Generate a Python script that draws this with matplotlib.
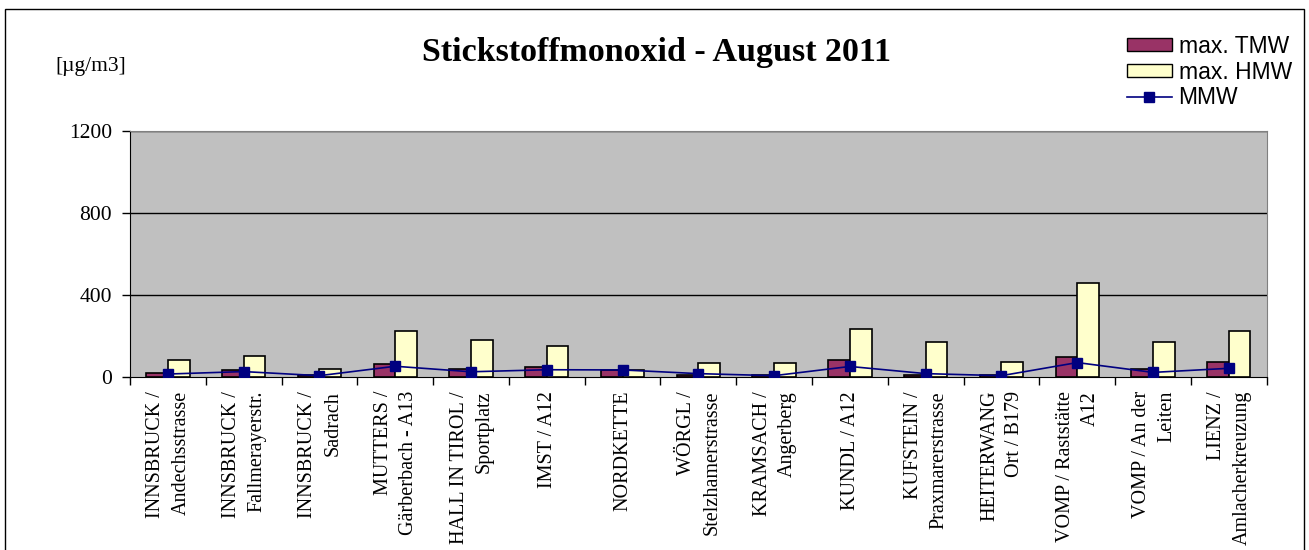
import matplotlib.pyplot as plt
import matplotlib.patches as mpatches
from matplotlib.lines import Line2D
import numpy as np

# Messstellen und Werte
stations = ["INNSBRUCK /\nAndechsstrasse", "INNSBRUCK /\nFallmerayerstr.", "INNSBRUCK /\nSadrach",
            "MUTTERS /\nGärberbach - A13", "HALL IN TIROL /\nSportplatz", "IMST / A12", "NORDKETTE",
            "WÖRGL /\nStelzhamerstrasse", "KRAMSACH /\nAngerberg", "KUNDL / A12",
            "KUFSTEIN /\nPraxmarerstrasse", "HEITERWANG\nOrt / B179", "VOMP / Raststätte\nA12",
            "VOMP / An der\nLeiten", "LIENZ /\nAmlacherkreuzung"]
max_tmw = [20, 31, 8, 64, 38, 46, 31, 8, 7, 82, 10, 6, 98, 38, 74]
max_hmw = [82, 100, 38, 222, 178, 152, 31, 65, 65, 232, 170, 74, 460, 170, 222]
mmw = [13, 25, 5, 51, 24, 34, 33, 15, 5, 50, 15, 5, 69, 21, 41]
yticks = [0, 400, 800, 1200]

serif = 'Liberation Serif'
sans = 'Liberation Sans'

fig = plt.figure(figsize=(13.09, 5.5), dpi=100)
ax = fig.add_axes([130 / 1309, 1 - 376.7 / 550, (1266.7 - 130) / 1309, (376.7 - 131) / 550])
ax.set_facecolor('#C0C0C0')

x = np.arange(len(stations))
w = 1 / 3.5
ax.bar(x - w / 2, max_tmw, w, color='#993366', edgecolor='black', linewidth=1.2, zorder=3)
ax.bar(x + w / 2, max_hmw, w, color='#FFFFCC', edgecolor='black', linewidth=1.2, zorder=3)
ax.plot(x, mmw, color='#000080', marker='s', markersize=7.5, linewidth=1.2, zorder=4)

ax.set_xlim(-0.5, len(stations) - 0.5)
ax.set_ylim(0, 1200)
ax.set_yticks(yticks)
ax.set_yticklabels([str(v) for v in yticks], fontfamily=serif, fontsize=15.5)
for v in yticks[1:]:
    ax.axhline(v, color='black', linewidth=1, zorder=1)

ax.set_xticks(np.arange(-0.5, len(stations), 1))
ax.set_xticklabels([])
ax.tick_params(axis='both', direction='out', length=6, width=1)
ax.tick_params(axis='y', pad=7)

for i, s in enumerate(stations):
    ax.text(i + 0.01, -0.058, s, transform=ax.get_xaxis_transform(), rotation=90,
            ha='center', va='top', multialignment='right', fontfamily=serif,
            fontsize=14.5, linespacing=1.45)

ax.spines['left'].set_color('black')
ax.spines['bottom'].set_color('black')
ax.spines['top'].set_color('#808080')
ax.spines['right'].set_color('#808080')

fig.text(656 / 1309, 1 - 53 / 550, 'Stickstoffmonoxid - August 2011', ha='center', va='center',
         fontfamily=serif, fontweight='bold', fontsize=24.5)
fig.text(55 / 1309, 1 - 67 / 550, '[µg/m3]', ha='left', va='center', fontfamily=serif, fontsize=15.5)

handles = [mpatches.Patch(facecolor='#993366', edgecolor='black', label='max. TMW'),
           mpatches.Patch(facecolor='#FFFFCC', edgecolor='black', label='max. HMW'),
           Line2D([], [], color='#000080', marker='s', markersize=7, linewidth=1.2, label='MMW')]
fig.legend(handles=handles, loc='upper left', bbox_to_anchor=(1127 / 1309, 1 - 35 / 550),
           frameon=False, prop={'family': sans, 'size': 16.5}, handlelength=1.95,
           handleheight=0.5, handletextpad=0.3, labelspacing=0.12, borderpad=0,
           borderaxespad=0)

fig.patches.append(mpatches.Rectangle((5 / 1309, -0.1), 1299 / 1309, 1.1 - 9 / 550,
                                      transform=fig.transFigure, fill=False,
                                      edgecolor='black', linewidth=1))

fig.savefig('out.png', dpi=100)
